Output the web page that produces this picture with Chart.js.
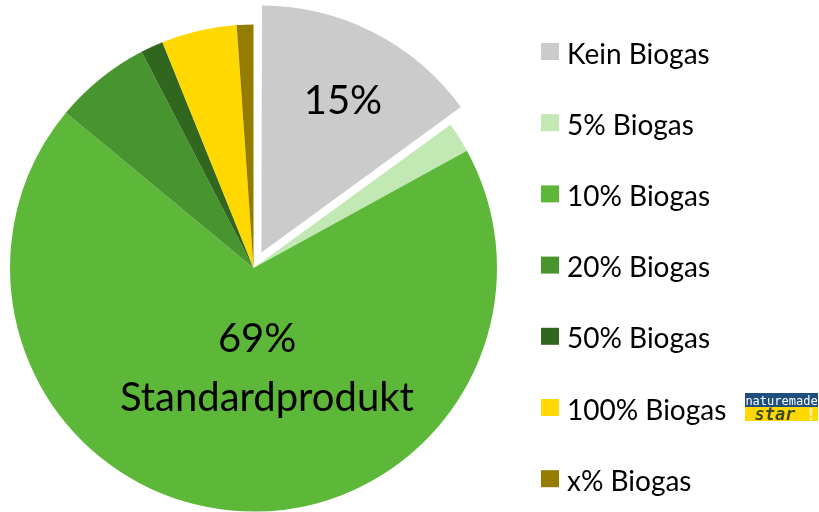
<!DOCTYPE html>
<html>
<head>
<meta charset="utf-8">
<script src="https://cdn.jsdelivr.net/npm/chart.js"></script>
<style>
  html, body { margin: 0; padding: 0; background: #fff; }
  #wrap { width: 819px; height: 512px; }
</style>
</head>
<body>
<div id="wrap"><canvas id="biogasChart" width="819" height="512"></canvas></div>
<script>
// values, in percent, clockwise from 12 o'clock
const categories = ['Kein Biogas', '5% Biogas', '10% Biogas', '20% Biogas', '50% Biogas', '100% Biogas', 'x% Biogas'];
const shares = [15, 2, 69, 6.4, 1.5, 5, 1.1];
const sliceColors = ['#cbcbcb', '#c2e8b4', '#5db83a', '#48952f', '#31661f', '#ffd800', '#937c00'];
const sliceOffsets = [70, 0, 0, 0, 0, 0, 0];
// texts shown inside slices: [slice index, lines]
const sliceTexts = [
  [0, ['15%']],
  [2, ['69%', 'Standardprodukt']]
];

const FONT = 'Lato, "Open Sans", sans-serif';

const sliceLabels = {
  id: 'sliceLabels',
  afterDatasetsDraw(chart) {
    const ctx = chart.ctx;
    const arcs = chart.getDatasetMeta(0).data;
    ctx.save();
    ctx.fillStyle = '#000';
    ctx.textAlign = 'center';
    ctx.textBaseline = 'middle';
    ctx.font = '40px ' + FONT;
    sliceTexts.forEach(([i, lines]) => {
      const a = arcs[i];
      const r = a.outerRadius;
      if (i === 0) {
        const mid = (a.startAngle + a.endAngle) / 2;
        const d = sliceOffsets[0] / 4 + 0.71 * r;
        ctx.fillText(lines[0], a.x + Math.cos(mid) * d + 3, a.y + Math.sin(mid) * d + 3);
      } else {
        ctx.fillText(lines[0], a.x + 0.015 * r, a.y + 0.29 * r);
        ctx.fillText(lines[1], a.x + 0.055 * r, a.y + 0.535 * r);
      }
    });
    ctx.restore();
  }
};

const sideLegend = {
  id: 'sideLegend',
  afterDraw(chart) {
    const ctx = chart.ctx;
    ctx.save();
    ctx.font = '28px ' + FONT;
    ctx.textBaseline = 'alphabetic';
    ctx.textAlign = 'left';
    categories.forEach((name, i) => {
      const top = 43 + i * 71.2;
      ctx.fillStyle = sliceColors[i];
      ctx.fillRect(541, top, 18, 17);
      ctx.fillStyle = '#000';
      ctx.fillText(name, 567, top + 20.5);
    });
    // naturemade star badge next to 100% Biogas
    const bx = 745, by = 393;
    ctx.fillStyle = '#1f4f7f';
    ctx.fillRect(bx, by, 73, 14);
    ctx.fillStyle = '#ffd800';
    ctx.fillRect(bx, by + 14, 73, 14);
    ctx.fillStyle = '#fff';
    ctx.font = '12px "DejaVu Sans Mono", monospace';
    ctx.textAlign = 'center';
    ctx.fillText('naturemade', bx + 36.5, by + 11.5);
    ctx.fillStyle = '#3a4a2a';
    ctx.font = 'italic bold 17px "DejaVu Sans Mono", monospace';
    ctx.fillText('star', bx + 30, by + 27);
    ctx.fillStyle = '#fff3a0';
    ctx.font = 'bold 16px "DejaVu Sans", sans-serif';
    ctx.fillText('!', bx + 66, by + 27);
    ctx.restore();
  }
};

new Chart(document.getElementById('biogasChart').getContext('2d'), {
  type: 'pie',
  data: {
    labels: categories,
    datasets: [{
      data: shares,
      backgroundColor: sliceColors,
      borderWidth: 0,
      offset: sliceOffsets,
      radius: 243.5,
      clip: false
    }]
  },
  options: {
    responsive: false,
    animation: false,
    layout: { padding: { left: 0, right: 312, top: 24, bottom: 0 } },
    plugins: {
      legend: { display: false },
      tooltip: { enabled: false }
    }
  },
  plugins: [sliceLabels, sideLegend]
});
</script>
</body>
</html>
